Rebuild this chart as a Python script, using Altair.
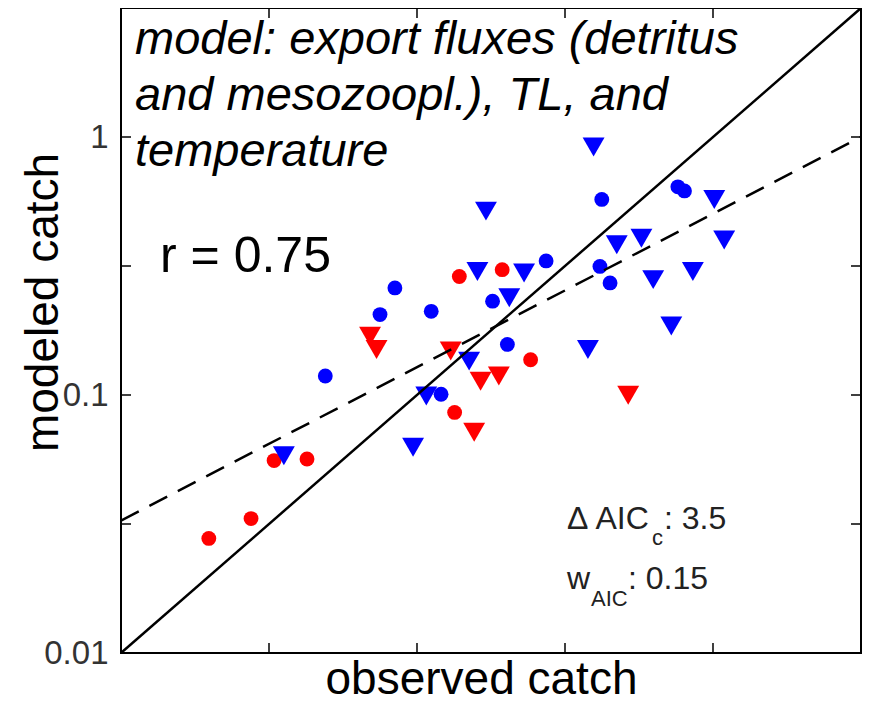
import altair as alt
import pandas as pd

FONT = "Liberation Sans"
W, H = 740, 645

# ---- data (observed catch, modeled catch) ----
red_circle_obs = [0.0198, 0.0275, 0.0329, 0.0425, 0.134, 0.139, 0.194, 0.242]
red_circle_mod = [0.0278, 0.0332, 0.0557, 0.0565, 0.0856, 0.288, 0.306, 0.137]

red_tri_obs = [0.0694, 0.0730, 0.130, 0.156, 0.164, 0.189, 0.517]
red_tri_mod = [0.169, 0.150, 0.148, 0.0717, 0.113, 0.1185, 0.0998]

blue_circle_obs = [0.0490, 0.0750, 0.0842, 0.1117, 0.1206, 0.180, 0.202, 0.273,
                   0.421, 0.415, 0.449, 0.761, 0.801]
blue_circle_mod = [0.1185, 0.205, 0.260, 0.211, 0.1007, 0.231, 0.157, 0.331,
                   0.573, 0.315, 0.272, 0.641, 0.618]

blue_tri_obs = [0.0355, 0.0970, 0.1075, 0.150, 0.171, 0.160, 0.205, 0.230, 0.378,
                0.395, 0.473, 0.573, 0.628, 0.723, 0.855, 1.010, 1.091]
blue_tri_mod = [0.0582, 0.0627, 0.0992, 0.1353, 0.516, 0.301, 0.238, 0.297, 0.150,
                0.914, 0.382, 0.405, 0.280, 0.185, 0.301, 0.573, 0.399]

# regression (dashed) and 1:1 (solid) lines
fit_x = [0.01, 3.1623]
fit_y = [0.0326, 1.0]
one_x = [0.01, 3.1623]
one_y = [0.01, 3.1623]

axis_domain = [0.01, 3.1623]
tick_vals = [0.031623, 0.1, 0.31623, 1.0]
label_vals = [0.01, 0.1, 1.0]

# ---- tables ----
rows = []
for xs, ys, g, k in [(red_circle_obs, red_circle_mod, "red", "circle"),
                     (red_tri_obs, red_tri_mod, "red", "tri"),
                     (blue_circle_obs, blue_circle_mod, "blue", "circle"),
                     (blue_tri_obs, blue_tri_mod, "blue", "tri")]:
    for a, b in zip(xs, ys):
        rows.append({"obs": a, "mod": b, "grp": g, "kind": k})
df = pd.DataFrame(rows)
fit_df = pd.DataFrame({"obs": fit_x, "mod": fit_y})
one_df = pd.DataFrame({"obs": one_x, "mod": one_y})
ticks_df = pd.DataFrame({"obs": tick_vals, "mod": tick_vals})

xscale = alt.Scale(type="log", domain=axis_domain, nice=False)
yscale = alt.Scale(type="log", domain=axis_domain, nice=False)
color_scale = alt.Scale(domain=["red", "blue"], range=["#ff0000", "#0000ff"])

x_axis = alt.Axis(title="observed catch", labels=False, ticks=False, domain=False,
                  grid=False, titleFont=FONT, titleFontSize=46, titleFontWeight="normal",
                  titleColor="black", titleX=360, titleY=40, titleBaseline="alphabetic",
                  titleAlign="center")
y_axis = alt.Axis(title="modeled catch", values=label_vals, format="~g", ticks=False,
                  domain=False, grid=False, labelFont=FONT, labelFontSize=33,
                  labelColor="#333333", labelPadding=13, labelFlush=False,
                  labelOverlap=False, labelBaseline="middle",
                  titleFont=FONT, titleFontSize=46, titleFontWeight="normal",
                  titleColor="black", titleX=-64, titleY=294, titleAngle=-90,
                  titleBaseline="alphabetic", titleAlign="center")

X = alt.X("obs:Q", scale=xscale, axis=x_axis)
Y = alt.Y("mod:Q", scale=yscale, axis=y_axis)

circles = alt.Chart(df).transform_filter(alt.datum.kind == "circle").mark_circle(
    size=220, opacity=1).encode(
    x=X, y=Y, color=alt.Color("grp:N", scale=color_scale, legend=None))
tris = alt.Chart(df).transform_filter(alt.datum.kind == "tri").mark_point(
    shape="triangle-down", size=480, filled=True, opacity=1, strokeWidth=0).encode(
    x=X, y=Y, color=alt.Color("grp:N", scale=color_scale, legend=None))

fit_line = alt.Chart(fit_df).mark_line(color="black", strokeWidth=2.5,
                                       strokeDash=[20, 12], clip=True).encode(x=X, y=Y)
one_line = alt.Chart(one_df).mark_line(color="black", strokeWidth=2.5, clip=True).encode(
    x=X, y=Y)

TL = 10
yt_left = alt.Chart(ticks_df).mark_rule(color="black", strokeWidth=1.5).encode(
    y=Y, x=alt.value(0), x2=alt.value(TL))
yt_right = alt.Chart(ticks_df).mark_rule(color="black", strokeWidth=1.5).encode(
    y=Y, x=alt.value(W - TL), x2=alt.value(W))
xt_bot = alt.Chart(ticks_df).mark_rule(color="black", strokeWidth=1.5).encode(
    x=X, y=alt.value(H - TL), y2=alt.value(H))
xt_top = alt.Chart(ticks_df).mark_rule(color="black", strokeWidth=1.5).encode(
    x=X, y=alt.value(0), y2=alt.value(TL))


def label(txt, x, y, size, style="normal", color="black", align="left"):
    return alt.Chart(pd.DataFrame({"t": [txt]})).mark_text(
        font=FONT, fontSize=size, fontStyle=style, color=color, align=align,
        baseline="alphabetic").encode(text="t:N", x=alt.value(x), y=alt.value(y))


model_lines = ["model: export fluxes (detritus", "and mesozoopl.), TL, and", "temperature"]
texts = [
    label(model_lines[0], 14, 46, 47, "italic"),
    label(model_lines[1], 14, 102, 47, "italic"),
    label(model_lines[2], 14, 158, 47, "italic"),
    label("r = 0.75", 39, 264, 50),
    label("\u0394 AIC", 446, 521, 32, color="#222222"),
    label("c", 531, 537, 22, color="#222222"),
    label(": 3.5", 543, 521, 32, color="#222222"),
    label("w", 446, 581, 32, color="#222222"),
    label("AIC", 470, 598, 22, color="#222222"),
    label(": 0.15", 507, 581, 32, color="#222222"),
]

chart = alt.layer(circles, tris, fit_line, one_line, yt_left, yt_right, xt_bot, xt_top,
                  *texts).properties(
    width=W, height=H,
    padding={"left": 113, "top": 0, "right": 2, "bottom": 44},
    autosize=alt.AutoSizeParams(type="none"),
    background="white",
).configure_view(stroke="black", strokeWidth=2)

chart.save("out.html", embed_options={"renderer": "svg", "actions": False})
